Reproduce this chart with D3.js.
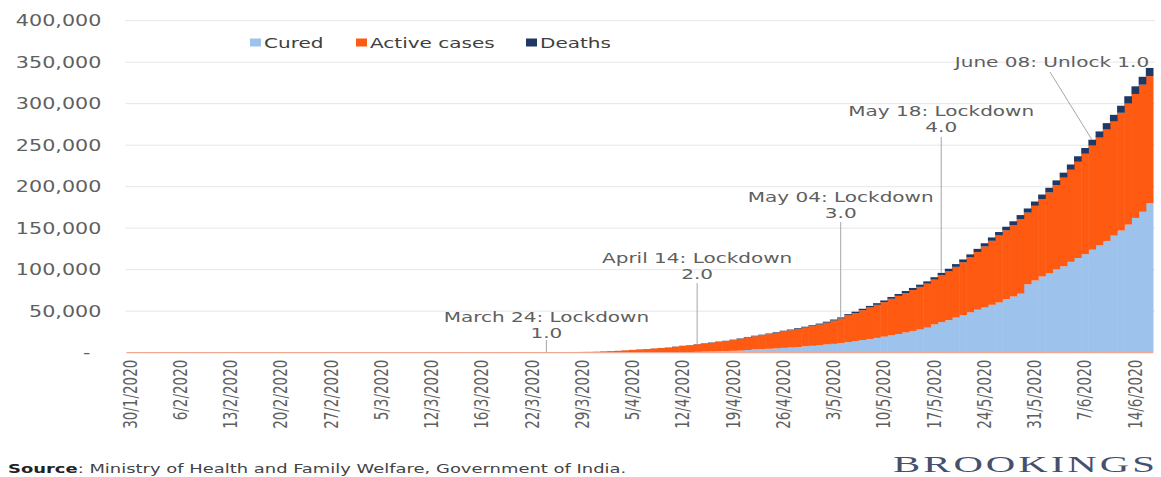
<!DOCTYPE html>
<html><head><meta charset="utf-8">
<script src="https://cdn.jsdelivr.net/npm/d3@7"></script>
<style>html,body{margin:0;padding:0;background:#fff;} svg{display:block;font-family:"DejaVu Sans",sans-serif;}</style>
</head><body><svg id="c" width="1161" height="477"></svg>
<script>
// ---------------- DATA ----------------
const categories = [
'30/1/2020','31/1/2020',
'1/2/2020','2/2/2020','3/2/2020','4/2/2020','5/2/2020','6/2/2020','7/2/2020','8/2/2020','9/2/2020','10/2/2020',
'11/2/2020','12/2/2020','13/2/2020','14/2/2020','15/2/2020','16/2/2020','17/2/2020','18/2/2020','19/2/2020','20/2/2020',
'21/2/2020','22/2/2020','23/2/2020','24/2/2020','25/2/2020','26/2/2020','27/2/2020','28/2/2020','29/2/2020',
'1/3/2020','2/3/2020','3/3/2020','4/3/2020','5/3/2020','6/3/2020','7/3/2020','8/3/2020','9/3/2020','10/3/2020','11/3/2020','12/3/2020',
'13/3/2020','13/3/2020','14/3/2020','14/3/2020','15/3/2020','15/3/2020',
'16/3/2020',
'17/3/2020','18/3/2020','19/3/2020','20/3/2020','21/3/2020','21/3/2020',
'22/3/2020','23/3/2020','24/3/2020','25/3/2020','26/3/2020','27/3/2020','28/3/2020','29/3/2020','30/3/2020','31/3/2020',
'1/4/2020','2/4/2020','3/4/2020','4/4/2020','5/4/2020','6/4/2020','7/4/2020','8/4/2020','9/4/2020','10/4/2020',
'11/4/2020','12/4/2020','13/4/2020','14/4/2020','15/4/2020','16/4/2020','17/4/2020','18/4/2020','19/4/2020','20/4/2020',
'21/4/2020','22/4/2020','23/4/2020','24/4/2020','25/4/2020','26/4/2020','27/4/2020','28/4/2020','29/4/2020','30/4/2020',
'1/5/2020','2/5/2020','3/5/2020','4/5/2020','5/5/2020','6/5/2020','7/5/2020','8/5/2020','9/5/2020','10/5/2020',
'11/5/2020','12/5/2020','13/5/2020','14/5/2020','15/5/2020','16/5/2020','17/5/2020','18/5/2020','19/5/2020','20/5/2020',
'21/5/2020','22/5/2020','23/5/2020','24/5/2020','25/5/2020','26/5/2020','27/5/2020','28/5/2020','29/5/2020','30/5/2020','31/5/2020',
'1/6/2020','2/6/2020','3/6/2020','4/6/2020','5/6/2020','6/6/2020','7/6/2020','8/6/2020','9/6/2020','10/6/2020',
'11/6/2020','12/6/2020','13/6/2020','14/6/2020','15/6/2020','16/6/2020'
];

const cured = [
0,0,0,0,0,0,0,0,0,0,0,0,0,0,
1,2,2,2,2,2,2,
3,3,3,3,3,3,3,3,3,3,3,3,3,3,3,3,3,3,3,
4,4,4,
10,10,10,10,10,13,13,
14,14,20,23,23,23,
24,24,40,43,45,67,79,86,100,102,
133,151,156,184,267,291,326,402,473,503,642,716,857,1035,1306,1489,1749,1992,2231,2547,3260,3960,4325,4749,5063,5804,6185,6869,7696,8325,
8889,9951,10633,11707,12727,14183,15267,16540,17847,19358,20917,22455,24386,26235,27920,30153,34109,36824,39174,42298,45300,48534,51784,54441,57721,60491,64426,67692,71106,82370,86984,
91819,95527,100303,104107,109462,114073,118695,124095,129215,134670,141029,147195,154330,162379,169798,180013
];

const active = [
1,1,1,2,3,3,3,3,3,3,3,3,3,3,
2,1,1,1,1,1,1,
0,0,0,0,0,0,0,0,0,0,0,
2,3,25,27,28,31,36,40,46,58,69,
69,72,84,90,95,95,99,
120,134,149,196,256,288,
329,384,469,553,633,640,775,868,942,1117,
1466,1764,2089,2650,3030,3667,3978,4643,5095,5710,6566,7367,7987,8989,9756,10477,11201,11906,12974,14175,15122,15859,16689,17610,18668,19868,20835,21632,22629,23651,
25007,26167,28046,29453,32138,33514,35902,37916,39834,41472,44029,46008,47480,49219,51401,53035,53946,56316,58802,61149,63624,66330,69597,73560,77103,80722,83004,86110,89987,86422,89995,
93322,97581,101497,106737,110960,115942,121004,125381,129917,134168,137448,141842,145779,149348,153106,153178
];

const deaths = [
0,0,0,0,0,0,0,0,0,0,0,0,0,0,0,0,0,0,0,0,0,0,0,0,0,0,0,0,0,0,0,0,0,0,0,0,0,0,0,0,0,0,0,
2,2,2,2,2,2,2,
3,3,4,4,4,4,
7,7,10,10,16,17,19,25,29,32,
38,50,56,68,77,109,117,149,166,199,239,273,308,339,377,414,437,480,507,543,603,652,686,718,775,824,872,934,1007,1074,
1147,1218,1301,1373,1568,1694,1783,1886,1981,2109,2206,2293,2415,2549,2649,2752,2872,3029,3163,3303,3435,3583,3720,3867,4021,4167,4337,4531,4706,4971,5164,
5394,5598,5815,6075,6348,6642,6929,7135,7466,7745,8102,8498,8884,9195,9520,9900
];

const yTicks = [0,50000,100000,150000,200000,250000,300000,350000,400000];
const seriesKeys = ['cured','active','deaths'];
const seriesLabels = ['Cured','Active cases','Deaths'];
const eventDates = ['24/3/2020','14/4/2020','4/5/2020','18/5/2020','8/6/2020'];
const eventTexts = [
  ['March 24: Lockdown','1.0'],
  ['April 14: Lockdown','2.0'],
  ['May 04: Lockdown','3.0'],
  ['May 18: Lockdown','4.0'],
  ['June 08: Unlock 1.0']
];
const sourceLabel = 'Source';
const sourceText = ': Ministry of Health and Family Welfare, Government of India.';
const brandText = 'BROOKINGS';

// ---------------- LAYOUT / STYLE ----------------
const SX = 1.38; // horizontal stretch of the reference's text
const colors = {cured:'#9dc3ec', active:'#ff5a12', deaths:'#1f3864'};
const textGray = '#5f5f5f';
const plotL = 126.4, plotR = 1153, y0px = 352.7, yTopPx = 20.7;

const svg = d3.select('#c');
const x = d3.scaleBand().domain(d3.range(categories.length)).range([plotL, plotR]).padding(0);
const y = d3.scaleLinear().domain([0, 400000]).range([y0px, yTopPx]);

function stext(g, px, py, str, size, fill, anchor) {
  return g.append('text')
    .attr('transform', `translate(${px},${py}) scale(${SX},1)`)
    .attr('dy', '0.35em')
    .attr('text-anchor', anchor || 'start')
    .style('font-size', size + 'px')
    .attr('fill', fill)
    .text(str);
}

// gridlines
svg.append('g').selectAll('line').data(yTicks.filter(d => d > 0)).join('line')
  .attr('x1', plotL - 1).attr('x2', plotR + 2)
  .attr('y1', d => y(d)).attr('y2', d => y(d))
  .attr('stroke', '#e6e6e6').attr('stroke-width', 1);

// stacked bars
const rows = categories.map((c, i) => ({i, cured: cured[i], active: active[i], deaths: deaths[i]}));
const stacked = d3.stack().keys(seriesKeys)(rows);
svg.append('g').selectAll('g').data(stacked).join('g')
  .attr('fill', d => colors[d.key])
  .selectAll('rect').data(d => d).join('rect')
  .attr('x', d => x(d.data.i))
  .attr('width', x.bandwidth() + 0.5)
  .attr('y', d => y(d[1]))
  .attr('height', d => Math.max(0, y(d[0]) - y(d[1])));

// baseline
svg.append('line').attr('x1', plotL).attr('x2', plotR)
  .attr('y1', y(0)).attr('y2', y(0))
  .attr('stroke', '#f0a890').attr('stroke-width', 1.2);

// y axis
const yAxis = svg.append('g').attr('transform', `translate(${plotL},0)`)
  .call(d3.axisLeft(y).tickValues(yTicks).tickSize(0)
    .tickFormat(d => d === 0 ? '-' : d3.format(',')(d)));
yAxis.select('.domain').remove();
yAxis.attr('font-family', null).attr('font-size', null);
yAxis.selectAll('text')
  .attr('x', 0).attr('dy', '0.35em')
  .attr('transform', d => `translate(${d === 0 ? -36 : -25},0) scale(${SX},1)`)
  .attr('fill', textGray).style('font-size', '15px');

// x axis
const xAxis = svg.append('g').attr('transform', `translate(0,${y(0)})`)
  .call(d3.axisBottom(x).tickValues(d3.range(0, categories.length, 7)).tickSize(0)
    .tickFormat(i => categories[i]));
xAxis.select('.domain').remove();
xAxis.attr('font-family', null).attr('font-size', null);
xAxis.selectAll('text')
  .attr('x', 0).attr('y', 0).attr('dy', '0.35em')
  .attr('text-anchor', 'end')
  .attr('transform', `translate(0,7) scale(${SX},1) rotate(-90)`)
  .attr('fill', textGray).style('font-size', '13.5px');

// legend
const legend = svg.append('g');
const legendPos = [250, 356, 526];
seriesKeys.forEach((k, i) => {
  legend.append('rect').attr('x', legendPos[i]).attr('y', 38.5).attr('width', 11).attr('height', 8).attr('fill', colors[k]);
  stext(legend, legendPos[i] + 14, 42.5, seriesLabels[i], 14.5, '#404040');
});

// annotations
const evLayout = [
  {ty: 317, ly1: 340, dx: 0, ldx: 0},
  {ty: 258, ly1: 283, dx: 0, ldx: 0},
  {ty: 197, ly1: 222, dx: 0, ldx: 0},
  {ty: 111, ly1: 137, dx: 0, ldx: 0},
  {ty: 62,  ly1: 72,  dx: -40, ldx: -42}
];
const ann = svg.append('g');
eventDates.forEach((dt, k) => {
  const i = categories.indexOf(dt);
  const cx = x(i) + x.bandwidth() / 2;
  const top = y(cured[i] + active[i] + deaths[i]);
  const L = evLayout[k];
  ann.append('line')
    .attr('x1', cx + L.ldx).attr('y1', L.ly1)
    .attr('x2', cx).attr('y2', top)
    .attr('stroke', '#a6a6a6').attr('stroke-width', 1);
  eventTexts[k].forEach((t, j) => {
    stext(ann, cx + L.dx, L.ty + j * 15.5, t, 14.5, textGray, 'middle');
  });
});

// source
const src = svg.append('text')
  .attr('transform', `translate(8,468) scale(${SX},1)`)
  .attr('dy', '0.35em').style('font-size', '13px');
src.append('tspan').attr('font-weight', 'bold').attr('fill', '#222').text(sourceLabel);
src.append('tspan').attr('fill', '#444').text(sourceText);

// brand
svg.append('text')
  .attr('transform', `translate(893,464) scale(1.7,1)`)
  .attr('dy', '0.35em')
  .attr('font-family', '"Liberation Serif", serif')
  .style('font-size', '24px')
  .attr('fill', '#46506e')
  .attr('textLength', 262 / 1.7)
  .attr('lengthAdjust', 'spacing')
  .text(brandText);
</script>
</body></html>
